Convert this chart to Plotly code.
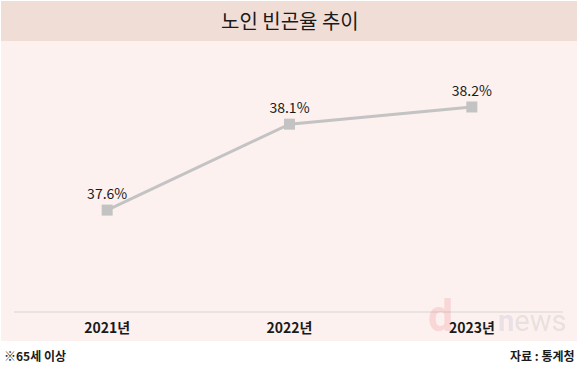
import plotly.graph_objects as go

years = ["2021년", "2022년", "2023년"]
rates = [37.6, 38.1, 38.2]
labels = ["37.6%", "38.1%", "38.2%"]
title = "노인 빈곤율 추이"
note_left = "※65세 이상"
note_right = "자료 : 통계청"

W, H = 580, 374
ML, MR, MT, MB = 16, 17, 41, 62
pw = W - ML - MR
ph = H - MT - MB

FONT = "Noto Sans CJK KR"

fig = go.Figure()
fig.add_trace(go.Scatter(
    x=years, y=rates, mode="lines+markers+text",
    line=dict(color="#c3c3c3", width=3),
    marker=dict(symbol="square", size=11, color="#c3c3c3"),
    text=labels, textposition="top center",
    textfont=dict(family=FONT, size=14, color="#1a1a1a"),
    cliponaxis=False, hoverinfo="skip",
))

def py(px):
    return (H - MB - px) / ph

def pxx(px):
    return (px - ML) / pw

shapes = [
    dict(type="rect", xref="paper", yref="paper", x0=pxx(1), x1=pxx(577),
         y0=py(341), y1=py(41), fillcolor="#fcf1ef", line=dict(width=0), layer="below"),
    dict(type="rect", xref="paper", yref="paper", x0=pxx(1), x1=pxx(577),
         y0=py(41), y1=py(1), fillcolor="#f0ddd6", line=dict(width=0), layer="below"),
    dict(type="line", xref="paper", yref="paper", x0=pxx(14), x1=pxx(563),
         y0=0, y1=0, line=dict(color="#d6d6d6", width=1.2), layer="below"),
]

annotations = [
    dict(text="<b>d</b>", xref="paper", yref="paper", x=pxx(455), y=py(344), xanchor="right", yanchor="bottom",
         showarrow=False, font=dict(family="Roboto", size=45, color="rgba(230,80,80,0.17)")),
    dict(text="<b><span style='color:rgba(100,120,165,0.15)'>n</span></b>"
              "<span style='color:rgba(110,110,110,0.14)'>ews</span>",
         xref="paper", yref="paper", x=pxx(568), y=py(340), xanchor="right", yanchor="bottom",
         showarrow=False, font=dict(family="Roboto", size=29)),
    dict(text=title, xref="paper", yref="paper", x=0.5, y=py(21), xanchor="center", yanchor="middle",
         showarrow=False, font=dict(family=FONT, size=20, color="#1a1a1a")),
    dict(text="<b>" + note_left + "</b>", xref="paper", yref="paper", x=pxx(2), y=py(355),
         xanchor="left", yanchor="middle", showarrow=False, font=dict(family=FONT, size=12, color="#1a1a1a")),
    dict(text="<b>" + note_right + "</b>", xref="paper", yref="paper", x=pxx(577), y=py(355),
         xanchor="right", yanchor="middle", showarrow=False, font=dict(family=FONT, size=12, color="#1a1a1a")),
]

fig.update_layout(
    width=W, height=H,
    margin=dict(l=ML, r=MR, t=MT, b=MB),
    paper_bgcolor="white", plot_bgcolor="rgba(0,0,0,0)",
    showlegend=False,
    shapes=shapes, annotations=annotations,
    xaxis=dict(type="category", range=[-0.5, 2.5], showgrid=False, zeroline=False, showline=False,
               ticks="", tickfont=dict(family=FONT, size=14, color="#1a1a1a"), ticklabelstandoff=6,
               tickvals=years, ticktext=["<b>" + y + "</b>" for y in years]),
    yaxis=dict(range=[37.007, 38.584], visible=False),
)

fig.write_html("out.html", config={"displayModeBar": False},
               post_script="document.body.style.margin='0';document.body.style.padding='0';")
